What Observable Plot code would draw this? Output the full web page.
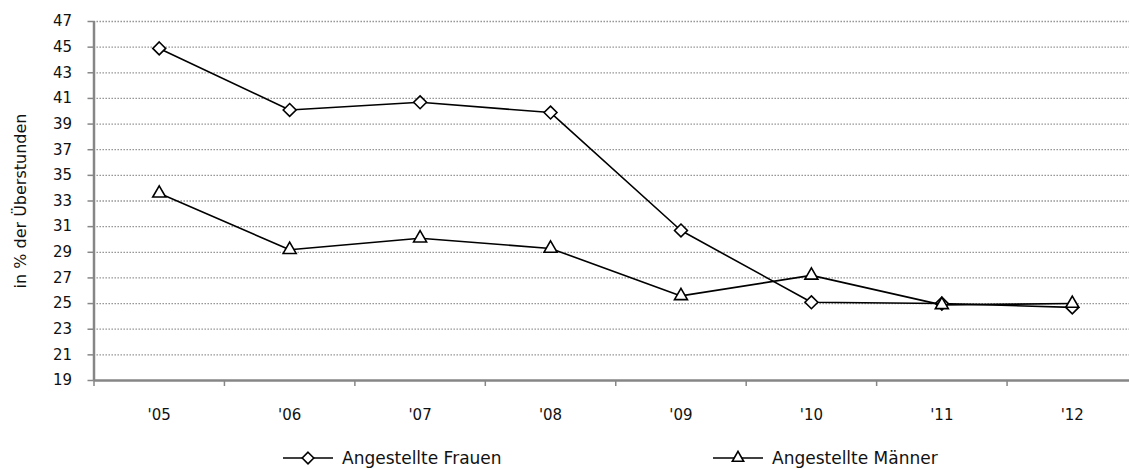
<!DOCTYPE html>
<html>
<head>
<meta charset="utf-8">
<script src="https://cdn.jsdelivr.net/npm/d3@7"></script>
<script src="https://cdn.jsdelivr.net/npm/@observablehq/plot@0.6"></script>
<style>
  html, body { margin: 0; padding: 0; background: #fff; overflow: hidden; }
  body { width: 1129px; height: 469px; font-family: "DejaVu Sans", sans-serif; }
  #chart svg { display: block; }
  #legend { position: relative; height: 34px; }
  .item { position: absolute; top: 13px; display: flex; align-items: center; font-size: 17px; color: #111; white-space: nowrap; }
  .item svg { display: block; margin-right: 9px; overflow: visible; }
</style>
</head>
<body>
<div id="chart"></div>
<div id="legend"></div>
<script>
// Share of overtime hours, employees by sex, 2005–2012
const years = ["'05", "'06", "'07", "'08", "'09", "'10", "'11", "'12"];
const frauen = [44.9, 40.1, 40.7, 39.9, 30.7, 25.1, 25.0, 24.7];
const maenner = [33.6, 29.2, 30.1, 29.3, 25.6, 27.2, 24.9, 25.0];
const seriesNames = ["Angestellte Frauen", "Angestellte Männer"];
const yTicks = [19, 21, 23, 25, 27, 29, 31, 33, 35, 37, 39, 41, 43, 45, 47];
const yTitle = "in % der Überstunden";

const W = 1129, H = 435;
const font = "DejaVu Sans, sans-serif";

// categories sit in the middle of unit-wide slots on a linear x scale
const rowsF = years.map((y, i) => ({i: i + 0.5, v: frauen[i]}));
const rowsM = years.map((y, i) => ({i: i + 0.5, v: maenner[i]}));
const centers = years.map((y, i) => i + 0.5);
const bounds = d3.range(years.length + 1);

const gridGrey = "#8c8c8c";
const axisGrey = "#868686";

const chart = Plot.plot({
  width: W,
  height: H,
  marginLeft: 93.5,
  marginRight: 0,
  marginTop: 21,
  marginBottom: 55,
  style: {fontFamily: font, fontSize: "15px", color: "#111", background: "#fff"},
  x: {type: "linear", domain: [0, years.length], range: [93.5, 1137]},
  y: {domain: [19, 47]},
  marks: [
    Plot.gridY(yTicks.filter(t => t > 19), {stroke: gridGrey, strokeOpacity: 1, strokeWidth: 1.3, strokeDasharray: "1.4,1.6"}),
    Plot.axisY({ticks: yTicks, tickSize: 6, tickPadding: 16, stroke: axisGrey, strokeWidth: 1.5, fill: "#111", fontSize: 15, label: null}),
    Plot.axisX({ticks: bounds, tickSize: 6, tickFormat: () => "", stroke: axisGrey, strokeWidth: 1.5, label: null}),
    Plot.axisX({ticks: centers, tickSize: 0, tickPadding: 29, tickFormat: d => years[Math.floor(d)], fill: "#111", fontSize: 15, label: null}),
    Plot.ruleX([0], {stroke: axisGrey, strokeWidth: 2.5}),
    Plot.ruleY([19], {stroke: axisGrey, strokeWidth: 2.5}),
    Plot.text([yTitle], {frameAnchor: "middle", x: () => 0, dx: -73.5, rotate: -90, fontSize: 16, fill: "#111"}),
    Plot.line(rowsF, {x: "i", y: "v", stroke: "#000", strokeWidth: 1.6}),
    Plot.dot(rowsF, {x: "i", y: "v", symbol: "diamond2", r: 5.8, fill: "#fff", stroke: "#000", strokeWidth: 1.6}),
    Plot.line(rowsM, {x: "i", y: "v", stroke: "#000", strokeWidth: 1.6}),
    Plot.dot(rowsM, {x: "i", y: "v", symbol: "triangle2", r: 6.2, fill: "#fff", stroke: "#000", strokeWidth: 1.6})
  ]
});
document.getElementById("chart").appendChild(chart);

// legend below the plot
const legend = d3.select("#legend");
const symbols = [d3.symbolDiamond2, d3.symbolTriangle2];
const sizes = [Math.PI * 5.2 * 5.2, Math.PI * 5.4 * 5.4];
const lefts = [283, 713];
seriesNames.forEach((name, k) => {
  const item = legend.append("div").attr("class", "item").style("left", lefts[k] + "px");
  const s = item.append("svg").attr("width", 50).attr("height", 14);
  s.append("line").attr("x1", 0).attr("x2", 50).attr("y1", 7).attr("y2", 7).attr("stroke", "#000").attr("stroke-width", 1.6);
  s.append("path").attr("transform", "translate(25,7)")
    .attr("d", d3.symbol(symbols[k], sizes[k])())
    .attr("fill", "#fff").attr("stroke", "#000").attr("stroke-width", 1.6);
  item.append("span").text(name);
});
</script>
</body>
</html>
